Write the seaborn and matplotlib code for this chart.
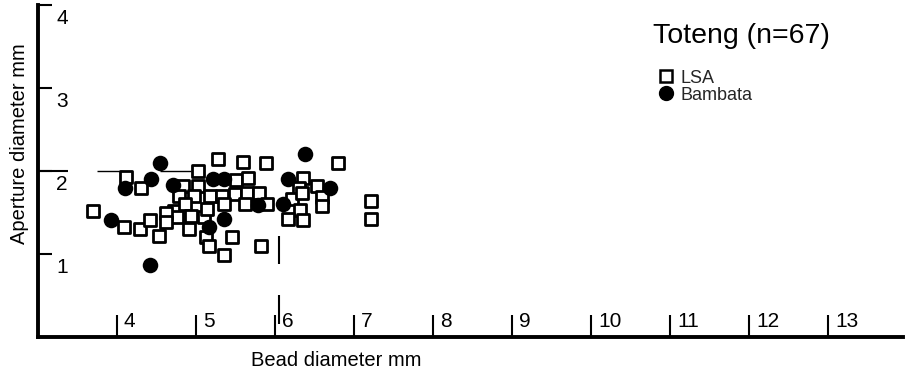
import matplotlib
matplotlib.use("Agg")
import matplotlib.pyplot as plt
import seaborn as sns
import pandas as pd
from matplotlib.lines import Line2D

# ---- data ----
lsa_bead = [3.70, 4.11, 4.30, 4.09, 4.29, 4.42, 4.53, 5.02, 5.28, 5.59,
            5.89, 4.84, 5.02, 5.50, 5.66, 4.78, 4.98, 5.18, 5.33, 5.49,
            5.64, 5.80, 5.35, 5.90, 4.72, 4.86, 4.76, 4.93, 5.10, 5.14,
            4.91, 5.12, 5.16, 5.35, 5.46, 5.82, 6.80, 6.36, 6.30, 6.53,
            6.59, 6.59, 6.21, 6.32, 6.17, 6.36, 7.22, 7.22, 6.34, 4.62,
            5.62, 4.62]
lsa_aperture = [1.52, 1.93, 1.79, 1.32, 1.30, 1.41, 1.22, 2.00, 2.14, 2.11,
                2.10, 1.82, 1.82, 1.89, 1.91, 1.70, 1.70, 1.70, 1.70, 1.72,
                1.73, 1.74, 1.60, 1.60, 1.52, 1.60, 1.44, 1.46, 1.44, 1.54,
                1.30, 1.20, 1.09, 0.99, 1.21, 1.10, 2.10, 1.92, 1.80, 1.82,
                1.68, 1.58, 1.66, 1.53, 1.42, 1.41, 1.64, 1.42, 1.74, 1.49,
                1.60, 1.38]
bambata_bead = [4.54, 4.10, 4.43, 4.71, 5.22, 5.35, 5.79, 6.10, 3.92, 5.35,
                5.17, 4.42, 6.38, 6.17, 6.70]
bambata_aperture = [2.10, 1.79, 1.90, 1.83, 1.90, 1.90, 1.59, 1.60, 1.41, 1.42,
                    1.32, 0.87, 2.20, 1.90, 1.79]

x_ticks = [4, 5, 6, 7, 8, 9, 10, 11, 12, 13]
y_ticks = [1, 2, 3, 4]
group_names = ["LSA", "Bambata"]
title_text = "Toteng (n=67)"
x_label = "Bead diameter mm"
y_label = "Aperture diameter mm"

df = pd.concat([
    pd.DataFrame({"bead": lsa_bead, "aperture": lsa_aperture, "group": group_names[0]}),
    pd.DataFrame({"bead": bambata_bead, "aperture": bambata_aperture, "group": group_names[1]}),
], ignore_index=True)

sns.set_theme(style="white")
plt.rcParams["font.family"] = ["Liberation Sans", "DejaVu Sans"]

fig = plt.figure(figsize=(9.05, 3.74), dpi=100)
ax = fig.add_axes([0.042, 0.099, 0.956, 0.888])

sns.scatterplot(data=df[df.group == group_names[0]], x="bead", y="aperture",
                marker="s", s=85, facecolor="white", edgecolor="black",
                linewidth=2.0, ax=ax, legend=False, zorder=3)
sns.scatterplot(data=df[df.group == group_names[1]], x="bead", y="aperture",
                marker="o", s=125, color="black", edgecolor="black",
                linewidth=0, ax=ax, legend=False, zorder=4)

ax.set_xlim(3, 13.95)
ax.set_ylim(0, 4)

for side in ["top", "right"]:
    ax.spines[side].set_visible(False)
for side in ["left", "bottom"]:
    ax.spines[side].set_color("black")
    ax.spines[side].set_linewidth(2.8)

ax.set_xticks(x_ticks)
ax.set_yticks(y_ticks)
ax.tick_params(axis="x", direction="in", length=16, width=1.5, color="black",
               labelbottom=False, bottom=True)
ax.tick_params(axis="y", direction="in", length=10, width=1.5, color="black",
               labelleft=False, left=True)
ax.set_xlabel("")
ax.set_ylabel("")

for t in x_ticks:
    ax.annotate(str(t), (t, 0), xytext=(5, 11), textcoords="offset points",
                ha="left", va="center", fontsize=15, color="black")
for t in y_ticks:
    ax.annotate(str(t), (3, t), xytext=(13, -10), textcoords="offset points",
                ha="left", va="center", fontsize=15, color="black")

# scanned guide strokes
ax.hlines(2, 3.0, 3.38, color="black", lw=1.5)
ax.hlines(2, 3.75, 4.08, color="black", lw=1.0)
ax.hlines(2, 4.55, 4.93, color="black", lw=1.0)
ax.vlines(6.05, 0.16, 0.5, color="black", lw=1.5)
ax.vlines(6.05, 0.88, 1.22, color="black", lw=1.5)

fig.text(0.372, 0.037, x_label, ha="center", va="center", fontsize=14.5, color="black")
fig.text(0.0215, 0.615, y_label, ha="center", va="center", rotation=90,
         fontsize=14.5, color="black")

ax.text(0.711, 0.905, title_text, transform=ax.transAxes, ha="left", va="center",
        fontsize=20.5, color="black")

handles = [
    Line2D([], [], marker="s", linestyle="none", markersize=8.5,
           markerfacecolor="white", markeredgecolor="black", markeredgewidth=1.8),
    Line2D([], [], marker="o", linestyle="none", markersize=10,
           markerfacecolor="black", markeredgecolor="black"),
]
ax.legend(handles, group_names, loc="upper left", bbox_to_anchor=(0.718, 0.805),
          frameon=False, fontsize=13, handlelength=0.8, handletextpad=0.4,
          labelspacing=0.0, borderpad=0, borderaxespad=0)

fig.savefig("out.png", dpi=100)
